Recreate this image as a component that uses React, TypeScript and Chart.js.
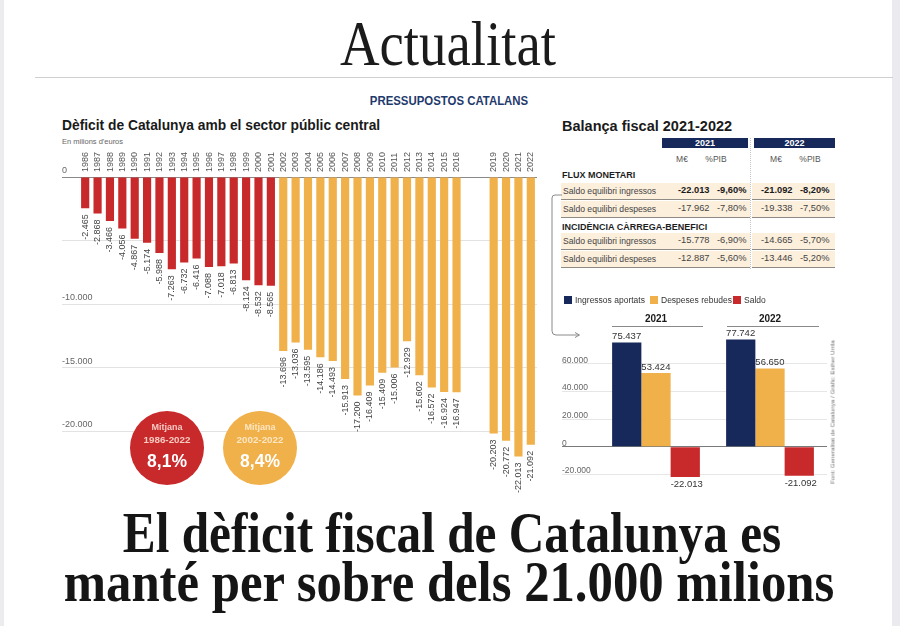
import React, { useEffect, useRef } from 'react';
import { Chart, registerables } from 'chart.js';

Chart.register(...registerables);

const SANS = '"Liberation Sans", Arial, sans-serif';
const SERIF = '"Liberation Serif", "Times New Roman", serif';
const RED = '#c8292b';
const ORANGE = '#f0b04a';
const NAVY = '#16295a';

Chart.defaults.font.family = SANS;

// Dèficit de Catalunya amb el sector públic central (milions d'euros)
const years = [
  '1986', '1987', '1988', '1989', '1990', '1991', '1992', '1993', '1994', '1995',
  '1996', '1997', '1998', '1999', '2000', '2001', '2002', '2003', '2004', '2005',
  '2006', '2007', '2008', '2009', '2010', '2011', '2012', '2013', '2014', '2015',
  '2016', '2017', '2018', '2019', '2020', '2021', '2022',
];
const deficit: (number | null)[] = [
  -2465, -2868, -3466, -4056, -4867, -5174, -5988, -7263, -6732, -6416,
  -7088, -7018, -6813, -8124, -8532, -8565, -13696, -13036, -13595, -14186,
  -14493, -15913, -17200, -16409, -15409, -15006, -12929, -15602, -16572, -16924,
  -16947, null, null, -20203, -20772, -22013, -21092,
];
const lastRedYear = 2001;
const leftTicks = [0, -5000, -10000, -15000, -20000];
const hiddenLeftTickLabels = [-5000];

// Mitjanes
const averageLabels = ['1986-2022', '2002-2022'];
const averageValues = ['8,1%', '8,4%'];

// Balança fiscal 2021-2022
const tableYears = ['2021', '2022'];
const tableSubHeads = ['M€', '%PIB'];
const sectionTitles = ['FLUX MONETARI', 'INCIDÈNCIA CÀRREGA-BENEFICI'];
const rowLabels = [
  'Saldo equilibri ingressos', 'Saldo equilibri despeses',
  'Saldo equilibri ingressos', 'Saldo equilibri despeses',
];
const meur2021 = [-22013, -17962, -15778, -12887];
const pib2021 = [-9.6, -7.8, -6.9, -5.6];
const meur2022 = [-21092, -19338, -14665, -13446];
const pib2022 = [-8.2, -7.5, -5.7, -5.2];

// Ingressos, despeses i saldo
const groupYears = ['2021', '2022'];
const seriesNames = ['Ingressos aportats', 'Despeses rebudes', 'Saldo'];
const ingressos = [75437, 77742];
const despeses = [53424, 56650];
const saldo = [-22013, -21092];
const seriesColors = [NAVY, ORANGE, RED];
const rightTicks = [60000, 40000, 20000, 0, -20000];

const fmt = (v: number) =>
  (v < 0 ? '-' : '') + Math.abs(Math.round(v)).toString().replace(/\B(?=(\d{3})+(?!\d))/g, '.');
const fmtPct = (v: number) => v.toFixed(2).replace('.', ',') + '%';

type TxtProps = {
  x: number; y: number; size: number; text: string; weight?: number | string;
  color?: string; family?: string; align?: 'left' | 'center' | 'right'; sx?: number;
};
function Txt({ x, y, size, text, weight = 400, color = '#222', family = SANS, align = 'left', sx = 1 }: TxtProps) {
  const shift = align === 'center' ? '-50%' : align === 'right' ? '-100%' : '0';
  return (
    <div
      style={{
        position: 'absolute', left: x, top: y - size * 0.845, fontSize: size, lineHeight: `${size}px`,
        fontWeight: weight as any, color, fontFamily: family, whiteSpace: 'nowrap',
        transform: `translateX(${shift}) scaleX(${sx})`,
        transformOrigin: align === 'center' ? 'center' : align === 'right' ? 'right' : 'left',
      }}
    >
      {text}
    </div>
  );
}

const deficitLabels = {
  id: 'deficitLabels',
  afterDatasetsDraw(chart: any) {
    const ctx = chart.ctx;
    const meta = chart.getDatasetMeta(0);
    ctx.save();
    ctx.font = `9px ${SANS}`;
    ctx.fillStyle = '#444';
    meta.data.forEach((bar: any, i: number) => {
      const v = deficit[i];
      if (v == null) return;
      ctx.save();
      ctx.translate(bar.x, bar.y + 6);
      ctx.rotate(-Math.PI / 2);
      ctx.textAlign = 'right';
      ctx.textBaseline = 'middle';
      ctx.fillText(fmt(v), 0, 0);
      ctx.restore();
    });
    ctx.restore();
  },
};

const groupLabels = {
  id: 'groupLabels',
  afterDatasetsDraw(chart: any) {
    const ctx = chart.ctx;
    ctx.save();
    ctx.font = `9.5px ${SANS}`;
    ctx.fillStyle = '#333';
    ctx.textAlign = 'left';
    chart.data.datasets.forEach((ds: any, di: number) => {
      const meta = chart.getDatasetMeta(di);
      meta.data.forEach((bar: any, i: number) => {
        const v = ds.data[i];
        const left = bar.x - bar.width / 2;
        if (v >= 0) {
          ctx.textBaseline = 'bottom';
          ctx.fillText(fmt(v), left, bar.y - 1);
        } else {
          ctx.textBaseline = 'top';
          ctx.fillText(fmt(v), left, bar.y + 3);
        }
      });
    });
    ctx.restore();
  },
};

function DeficitChart() {
  const ref = useRef<HTMLCanvasElement>(null);
  useEffect(() => {
    if (!ref.current) return;
    const chart = new Chart(ref.current, {
      type: 'bar',
      data: {
        labels: years,
        datasets: [{
          data: deficit,
          backgroundColor: years.map((y) => (Number(y) <= lastRedYear ? RED : ORANGE)),
          barPercentage: 0.66,
          categoryPercentage: 1,
        }],
      },
      options: {
        responsive: false,
        animation: false,
        layout: { padding: { left: 22, right: 13, top: 13, bottom: 12.8 } },
        plugins: { legend: { display: false }, tooltip: { enabled: false } },
        scales: {
          x: {
            position: 'top',
            grid: { display: false },
            border: { display: false },
            ticks: {
              autoSkip: false, minRotation: 90, maxRotation: 90, padding: -3, labelOffset: 11,
              color: '#555', font: { size: 9 },
              callback: (_v: any, i: number) => (deficit[i] == null ? '' : years[i]),
            },
            afterFit: (s: any) => { s.height = 34; },
          },
          y: {
            min: -26000, max: 0,
            afterBuildTicks: (s: any) => { s.ticks = leftTicks.map((value) => ({ value })); },
            border: { display: false },
            grid: {
              color: (c: any) => (c.tick && c.tick.value === 0 ? '#8a8a8a' : '#e2e2e2'),
              tickLength: 17,
              lineWidth: 1,
            },
            ticks: {
              mirror: true, crossAlign: 'near', labelOffset: -6, padding: -17, color: '#666', font: { size: 9 },
              callback: (v: any) => (hiddenLeftTickLabels.includes(v) ? '' : fmt(v)),
            },
            afterFit: (s: any) => { s.width = 17; },
          },
        },
      } as any,
      plugins: [deficitLabels],
    });
    return () => chart.destroy();
  }, []);
  return (
    <canvas ref={ref} width={510} height={390}
      style={{ position: 'absolute', left: 40, top: 130, width: 510, height: 390 }} />
  );
}

function BalanceChart() {
  const ref = useRef<HTMLCanvasElement>(null);
  useEffect(() => {
    if (!ref.current) return;
    const values = [ingressos, despeses, saldo];
    const chart = new Chart(ref.current, {
      type: 'bar',
      data: {
        labels: groupYears,
        datasets: values.map((data, i) => ({
          label: seriesNames[i],
          data,
          backgroundColor: seriesColors[i],
          barPercentage: 1,
          categoryPercentage: 0.77,
        })),
      },
      options: {
        responsive: false,
        animation: false,
        layout: { padding: { left: 12, right: 8, top: 11.3, bottom: 18.8 } },
        plugins: { legend: { display: false }, tooltip: { enabled: false } },
        scales: {
          x: { display: false },
          y: {
            min: -25000, max: 80000,
            afterBuildTicks: (s: any) => { s.ticks = rightTicks.map((value) => ({ value })); },
            border: { display: false },
            grid: {
              color: (c: any) => (c.tick && c.tick.value === 0 ? '#7a7a7a' : '#e6e6e6'),
              tickLength: 37,
              lineWidth: 1,
            },
            ticks: {
              mirror: true, crossAlign: 'near', labelOffset: -3.5, padding: -37, color: '#666', font: { size: 8.5 },
              callback: (v: any) => fmt(v),
            },
            afterFit: (s: any) => { s.width = 37; },
          },
        },
      } as any,
      plugins: [groupLabels],
    });
    return () => chart.destroy();
  }, []);
  return (
    <canvas ref={ref} width={285} height={175}
      style={{ position: 'absolute', left: 550, top: 325, width: 285, height: 175 }} />
  );
}

function BalanceTable() {
  const rowTops = [183, 201, 233, 251];
  const sectionBaselines = [178.5, 230.5];
  const colX = [678, 717, 761, 800];
  const cols = [meur2021, pib2021, meur2022, pib2022];
  const boxes = [{ left: 662, width: 86 }, { left: 754, width: 81 }];
  const subCenters = [[682, 716], [776, 810]];
  return (
    <>
      {rowTops.map((t, i) => (
        <React.Fragment key={'r' + i}>
          <div style={{ position: 'absolute', left: 561, top: t, width: 274, height: 16, background: '#fcefdc' }} />
          <div style={{ position: 'absolute', left: 561, top: t + 16, width: 274, height: 1, background: '#8e8a84' }} />
        </React.Fragment>
      ))}
      <div style={{ position: 'absolute', left: 750, top: 138, width: 2, height: 131, background: '#fff' }} />
      <div style={{ position: 'absolute', left: 750, top: 138, width: 0, height: 131, borderLeft: '1px dotted #c4c4c4' }} />
      {boxes.map((b, i) => (
        <React.Fragment key={'b' + i}>
          <div style={{ position: 'absolute', left: b.left, top: 138, width: b.width, height: 10, background: NAVY }} />
          <Txt x={b.left + b.width / 2} y={146.5} size={9} weight={700} color="#fff" align="center" text={tableYears[i]} />
          {tableSubHeads.map((h, j) => (
            <Txt key={h} x={subCenters[i][j]} y={162} size={8.5} color="#555" align="center" text={h} />
          ))}
        </React.Fragment>
      ))}
      {sectionTitles.map((s, i) => (
        <Txt key={s} x={562} y={sectionBaselines[i]} size={9} weight={700} color="#1e1e1e" text={s} />
      ))}
      {rowLabels.map((l, i) => (
        <React.Fragment key={'l' + i}>
          <Txt x={563} y={rowTops[i] + 11.3} size={8.6} color="#444" text={l} />
          {cols.map((c, j) => (
            <Txt key={j} x={colX[j]} y={rowTops[i] + 11.3} size={9.3} weight={i === 0 ? 700 : 400}
              color={i === 0 ? '#1a1a1a' : '#444'} text={j % 2 === 0 ? fmt(c[i]) : fmtPct(c[i])} />
          ))}
        </React.Fragment>
      ))}
    </>
  );
}

export default function App() {
  useEffect(() => {
    document.body.style.margin = '0';
  }, []);
  const legendX = [564, 650, 733];
  const groupCenters = [656, 770];
  const groupLines = [{ l: 612, r: 703 }, { l: 727, r: 819 }];
  const circles = [{ cx: 167, color: RED, sub: '#f6c9c1' }, { cx: 260, color: ORANGE, sub: '#fde6c2' }];
  return (
    <div style={{ position: 'relative', width: 900, height: 626, background: '#fff', overflow: 'hidden', fontFamily: SANS }}>
      <div style={{ position: 'absolute', left: 0, top: 0, width: 4, height: 626, background: '#ececef' }} />
      <div style={{ position: 'absolute', left: 892, top: 0, width: 8, height: 626, background: '#ebebef' }} />

      <Txt x={448} y={66} size={63} family={SERIF} color="#1b1b1b" align="center" sx={0.87} text="Actualitat" />
      <div style={{ position: 'absolute', left: 35, top: 77, width: 858, height: 1, background: '#cfcfd2' }} />
      <Txt x={449} y={105.5} size={12} weight={700} color="#1f3a6c" align="center" sx={0.95} text="PRESSUPOSTOS CATALANS" />

      <Txt x={62} y={131} size={13.8} weight={700} color="#1a1a1a" text="Dèficit de Catalunya amb el sector públic central" />
      <Txt x={62} y={144} size={7.5} color="#666" text="En milions d'euros" />

      <DeficitChart />

      {circles.map((c, i) => (
        <React.Fragment key={'c' + i}>
          <div style={{ position: 'absolute', left: c.cx - 37, top: 448 - 37, width: 74, height: 74, borderRadius: '50%', background: c.color }} />
          <Txt x={c.cx} y={431} size={9} weight={700} color={c.sub} align="center" text="Mitjana" />
          <Txt x={c.cx} y={443.5} size={9.8} weight={700} color={c.sub} align="center" text={averageLabels[i]} />
          <Txt x={c.cx} y={467.5} size={17.5} weight={700} color="#fff" align="center" text={averageValues[i]} />
        </React.Fragment>
      ))}

      <Txt x={562} y={131} size={14.5} weight={700} color="#1a1a1a" text="Balança fiscal 2021-2022" />
      <BalanceTable />

      <svg width={900} height={626} style={{ position: 'absolute', left: 0, top: 0, pointerEvents: 'none' }}>
        <path d="M 562 195 H 555 Q 552 195 552 198 V 331 Q 552 335 556 335 H 579" fill="none" stroke="#8a8a8a" strokeWidth={1} />
        <path d="M 575 332.5 L 579.5 335 L 575 337.5" fill="none" stroke="#8a8a8a" strokeWidth={1} />
      </svg>

      {seriesNames.map((n, i) => (
        <React.Fragment key={n}>
          <div style={{ position: 'absolute', left: legendX[i], top: 296, width: 8, height: 8, background: seriesColors[i] }} />
          <Txt x={legendX[i] + 11} y={303.5} size={8.5} color="#333" text={n} />
        </React.Fragment>
      ))}

      <BalanceChart />

      {groupYears.map((y, i) => (
        <React.Fragment key={y}>
          <Txt x={groupCenters[i]} y={322} size={10} weight={700} color="#1a1a1a" align="center" text={y} />
          <div style={{ position: 'absolute', left: groupLines[i].l, top: 326, width: groupLines[i].r - groupLines[i].l, height: 1, background: '#8a8a8a' }} />
        </React.Fragment>
      ))}

      <div style={{
        position: 'absolute', left: 832, top: 412, fontSize: 6.2, lineHeight: '7px', color: '#777', whiteSpace: 'nowrap',
        transform: 'translate(-50%, -50%) rotate(-90deg)', fontFamily: SANS,
      }}>
        Font: Generalitat de Catalunya / Gràfic: Esther Urrila
      </div>

      <Txt x={452} y={552} size={56} weight={700} family={SERIF} color="#151515" align="center" sx={0.88} text="El dèficit fiscal de Catalunya es" />
      <Txt x={449} y={601} size={56} weight={700} family={SERIF} color="#151515" align="center" sx={0.906} text="manté per sobre dels 21.000 milions" />
    </div>
  );
}
